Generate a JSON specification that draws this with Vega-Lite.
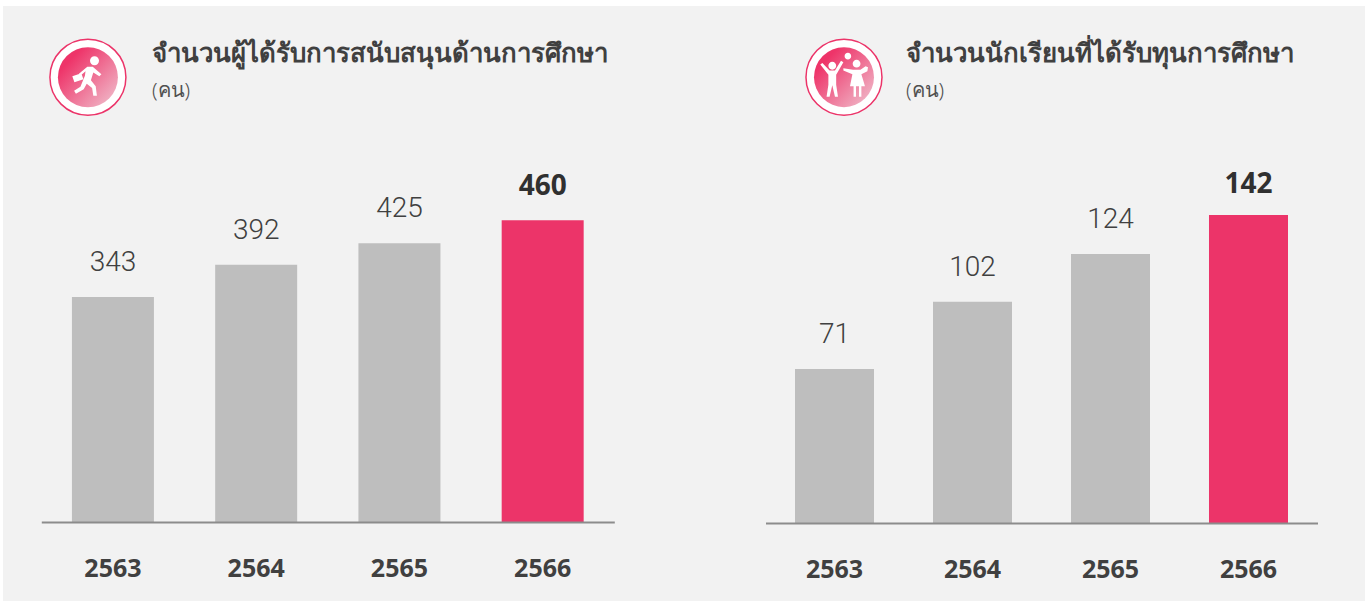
{
"$schema":"https://vega.github.io/schema/vega-lite/v6.json",
"background":"#ffffff",
"padding":{"left":3,"top":6,"right":0,"bottom":1},
"spacing":0,
"config":{"view":{"stroke":null},"concat":{"spacing":0}},
"hconcat":[
{
"width":690,"height":595,
"view":{"fill":"#f2f2f2","stroke":null},
"title":{"text":"จำนวนผู้ได้รับการสนับสนุนด้านการศึกษา","subtitle":"(คน)","anchor":"start","frame":"group","dx":149,"dy":100,"font":"Noto Sans","fontSize":25.8,"fontWeight":"bold","color":"#404040","subtitleFont":"Noto Sans","subtitleFontSize":20,"subtitleFontWeight":300,"subtitleColor":"#505050","subtitlePadding":13},
"data":{"values":[{"year":2563,"value":343},{"year":2564,"value":392},{"year":2565,"value":425},{"year":2566,"value":460}]},
"encoding":{
"x":{"field":"year","type":"ordinal","title":null,"scale":{"range":[38.3,611.3],"paddingInner":0.4276,"paddingOuter":0.2138},"axis":{"labelAngle":0,"offset":-79,"ticks":false,"labelPadding":46,"labelBaseline":"middle","labelFont":"Open Sans","labelFontSize":25,"labelFontWeight":"bold","labelColor":"#404040","domainColor":"#8c8c8c","domainWidth":2,"grid":false,"zindex":1}},
"y":{"field":"value","type":"quantitative","title":null,"axis":null,"scale":{"domain":[-120.4,786.6],"nice":false,"zero":false}}
},
"layer":[
{"mark":{"type":"bar"},"encoding":{"color":{"condition":{"test":"datum.year===2566","value":"#ec3469"},"value":"#bebebe"}}},
{"transform":[{"filter":"datum.year!==2566"}],"mark":{"type":"text","dy":-34,"baseline":"middle","font":"Roboto","fontWeight":300,"fontSize":28,"color":"#404040"},"encoding":{"text":{"field":"value","type":"quantitative"}}},
{"transform":[{"filter":"datum.year===2566"}],"mark":{"type":"text","dy":-33,"baseline":"middle","font":"Open Sans","fontWeight":"bold","fontSize":28,"color":"#303030"},"encoding":{"text":{"field":"value","type":"quantitative"}}},
{"data":{"values":[{"year":2563,"value":678}]},"mark":{"type":"point","shape":"circle","filled":true,"fill":"#ffffff","opacity":1,"stroke":"#ec3469","strokeWidth":1.5,"size":5776},"encoding":{"x":{"field":"year","type":"ordinal","bandPosition":0.195}}},
{"data":{"values":[{"year":2563,"value":678}]},"mark":{"type":"point","shape":"circle","filled":true,"opacity":1,"size":3600,"fill":{"gradient":"linear","x1":0.1,"y1":0.15,"x2":0.95,"y2":0.95,"stops":[{"offset":0.1,"color":"#ee3469"},{"offset":1,"color":"#f0bccb"}]}},"encoding":{"x":{"field":"year","type":"ordinal","bandPosition":0.195}}},
{"data":{"values":[{"year":2563,"value":678}]},"mark":{"type":"point","filled":true,"fill":"#ffffff","opacity":1,"size":3600,"shape":"M.07,-.55a.15,.15 0 1,0 .3,0a.15,.15 0 1,0 -.3,0zM-.02,-.35L.16,-.35L.45,-.1L.38,-.03L.18,-.16L.1,.1L.26,.3L.3,.62L.18,.62L.14,.36L-.04,.22L-.14,.4L-.4,.55L-.46,.45L-.25,.32L-.1,-.05L-.08,-.2L-.24,-.06L-.3,-.12ZM-.52,-.03L-.22,-.13L-.15,.07L-.45,.17Z"},"encoding":{"x":{"field":"year","type":"ordinal","bandPosition":0.195}}}
]
},
{
"width":672,"height":595,
"view":{"fill":"#f2f2f2","stroke":null},
"title":{"text":"จำนวนนักเรียนที่ได้รับทุนการศึกษา","subtitle":"(คน)","anchor":"start","frame":"group","dx":213,"dy":100,"font":"Noto Sans","fontSize":25.8,"fontWeight":"bold","color":"#404040","subtitleFont":"Noto Sans","subtitleFontSize":20,"subtitleFontWeight":300,"subtitleColor":"#505050","subtitlePadding":13},
"data":{"values":[{"year":2563,"value":71},{"year":2564,"value":102},{"year":2565,"value":124},{"year":2566,"value":142}]},
"encoding":{
"x":{"field":"year","type":"ordinal","title":null,"scale":{"range":[72.5,624.5],"paddingInner":0.4275,"paddingOuter":0.2138},"axis":{"labelAngle":0,"offset":-78,"ticks":false,"labelPadding":46,"labelBaseline":"middle","labelFont":"Open Sans","labelFontSize":25,"labelFontWeight":"bold","labelColor":"#404040","domainColor":"#8c8c8c","domainWidth":2,"grid":false,"zindex":1}},
"y":{"field":"value","type":"quantitative","title":null,"axis":null,"scale":{"domain":[-35.96,238.4],"nice":false,"zero":false}}
},
"layer":[
{"mark":{"type":"bar"},"encoding":{"color":{"condition":{"test":"datum.year===2566","value":"#ec3469"},"value":"#bebebe"}}},
{"transform":[{"filter":"datum.year!==2566"}],"mark":{"type":"text","dy":-34,"baseline":"middle","font":"Roboto","fontWeight":300,"fontSize":28,"color":"#404040"},"encoding":{"text":{"field":"value","type":"quantitative"}}},
{"transform":[{"filter":"datum.year===2566"}],"mark":{"type":"text","dy":-30,"baseline":"middle","font":"Open Sans","fontWeight":"bold","fontSize":28,"color":"#303030"},"encoding":{"text":{"field":"value","type":"quantitative"}}},
{"data":{"values":[{"year":2563,"value":205.6}]},"mark":{"type":"point","shape":"circle","filled":true,"fill":"#ffffff","opacity":1,"stroke":"#ec3469","strokeWidth":1.5,"size":5776},"encoding":{"x":{"field":"year","type":"ordinal","bandPosition":0.62}}},
{"data":{"values":[{"year":2563,"value":205.6}]},"mark":{"type":"point","shape":"circle","filled":true,"opacity":1,"size":3600,"fill":{"gradient":"linear","x1":0.1,"y1":0.15,"x2":0.95,"y2":0.95,"stops":[{"offset":0.1,"color":"#ee3469"},{"offset":1,"color":"#f0bccb"}]}},"encoding":{"x":{"field":"year","type":"ordinal","bandPosition":0.62}}},
{"data":{"values":[{"year":2563,"value":205.6}]},"mark":{"type":"point","filled":true,"fill":"#ffffff","opacity":1,"size":3600,"shape":"M-.52,-.38a.13,.13 0 1,0 .26,0a.13,.13 0 1,0 -.26,0zM-.72,-.47L-.79,-.42L-.52,-.08L-.52,.25L-.58,.65L-.48,.65L-.39,.27L-.3,.65L-.2,.65L-.26,.25L-.26,-.08L-.02,-.5L-.1,-.55L-.3,-.22L-.48,-.22ZM.29,-.45a.13,.13 0 1,0 .26,0a.13,.13 0 1,0 -.26,0zM-.02,-.3L-.02,-.22L.28,-.1L.2,.3L.32,.3L.32,.65L.4,.65L.4,.3L.5,.3L.5,.65L.58,.65L.58,.3L.7,.3L.58,-.1L.78,-.2L.8,-.33L.72,-.36L.55,-.25L.3,-.25ZM.02,-.7a.11,.11 0 1,0 .22,0a.11,.11 0 1,0 -.22,0z"},"encoding":{"x":{"field":"year","type":"ordinal","bandPosition":0.62}}}
]
}
]
}
